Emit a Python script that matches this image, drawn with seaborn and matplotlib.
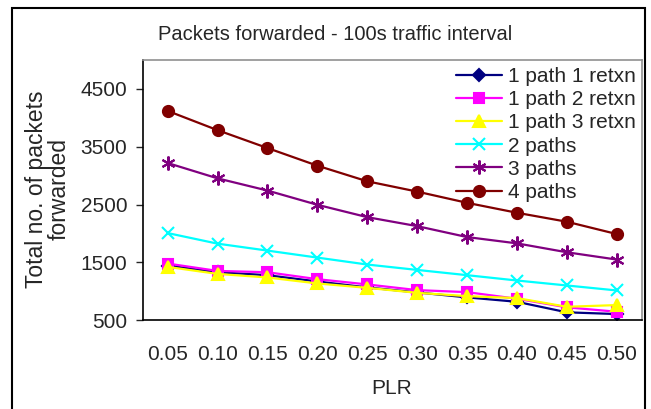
import matplotlib
matplotlib.use("Agg")
import matplotlib.pyplot as plt
import seaborn as sns
import pandas as pd
from matplotlib.patches import Rectangle

plr = ["0.05", "0.10", "0.15", "0.20", "0.25", "0.30", "0.35", "0.40", "0.45", "0.50"]
p1_r1 = [1447, 1331, 1280, 1171, 1068, 982, 896, 820, 638, 608]
p1_r2 = [1481, 1354, 1331, 1211, 1120, 1022, 987, 872, 724, 648]
p1_r3 = [1423, 1302, 1240, 1137, 1061, 975, 918, 884, 734, 763]
paths2 = [2008, 1825, 1705, 1584, 1464, 1371, 1280, 1188, 1102, 1016]
paths3 = [3219, 2954, 2743, 2497, 2283, 2128, 1939, 1830, 1676, 1550]
paths4 = [4120, 3787, 3478, 3173, 2903, 2725, 2531, 2359, 2204, 1991]
series_names = ["1 path 1 retxn", "1 path 2 retxn", "1 path 3 retxn", "2 paths", "3 paths", "4 paths"]
series_vals = [p1_r1, p1_r2, p1_r3, paths2, paths3, paths4]

colors = ["#000080", "#FF00FF", "#FFFF00", "#00FFFF", "#800080", "#800000"]
markers = ["D", "s", "^", "x", (6, 2, 0), "o"]
msizes = [6, 7, 8, 9, 10, 8]

sns.set_style("white")
plt.rcParams["font.family"] = ["Liberation Sans", "DejaVu Sans"]

fig = plt.figure(figsize=(6.51, 4.09), dpi=100)
W, H = 651, 409
ax = fig.add_axes([142.7 / W, 1 - 320.3 / H, (641.7 - 142.7) / W, (320.3 - 60) / H])

for name, vals, c, m, ms in zip(series_names, series_vals, colors, markers, msizes):
    df = pd.DataFrame({"PLR": plr, "val": vals})
    sns.lineplot(data=df, x="PLR", y="val", ax=ax, color=c, marker=m, markersize=ms,
                 markeredgecolor=c, markerfacecolor=c, markeredgewidth=1.5,
                 linewidth=1.6, label=name)

ax.set_xlim(-0.5, 9.5)
ax.set_ylim(500, 5000)
ax.set_yticks([500, 1500, 2500, 3500, 4500])
ax.set_xticks(range(10))
ax.set_xticklabels(plr)
ax.set_xticks([i - 0.5 for i in range(11)], minor=True)
ax.tick_params(axis="x", which="major", length=0, pad=18, labelsize=15)
ax.tick_params(axis="x", which="minor", length=5, width=1, color="#606060", direction="out")
ax.tick_params(axis="y", which="major", length=5, width=1, pad=6, labelsize=15, direction="out", left=True)
ax.set_xlabel("")
ax.set_ylabel("")

for s in ["left", "bottom"]:
    ax.spines[s].set_color("black")
    ax.spines[s].set_linewidth(1.2)
for s in ["top", "right"]:
    ax.spines[s].set_visible(True)
    ax.spines[s].set_color("#909090")
    ax.spines[s].set_linewidth(1.2)

leg = ax.legend(loc="upper left", bbox_to_anchor=(456 / W, 1 - 67 / H),
                bbox_transform=fig.transFigure, frameon=False, fontsize=15,
                handlelength=2.2, handletextpad=0.3, labelspacing=0.2,
                borderpad=0, borderaxespad=0)

fig.text(335 / W, 1 - 35 / H, "Packets forwarded - 100s traffic interval",
         ha="center", va="center", fontsize=14.5)
fig.text(48 / W, 1 - 189 / H, "Total no. of packets\nforwarded", rotation=90,
         ha="center", va="center", multialignment="center", fontsize=16.5,
         linespacing=1.0)
fig.text(392 / W, 1 - 388 / H, "PLR", ha="center", va="center", fontsize=15)

fig.patches.append(Rectangle((11.7 / W, -0.02), (645.3 - 11.7) / W, 1.02 - 7.5 / H,
                             transform=fig.transFigure, fill=False,
                             edgecolor="black", linewidth=1.5))

fig.savefig("out.png", dpi=100)
